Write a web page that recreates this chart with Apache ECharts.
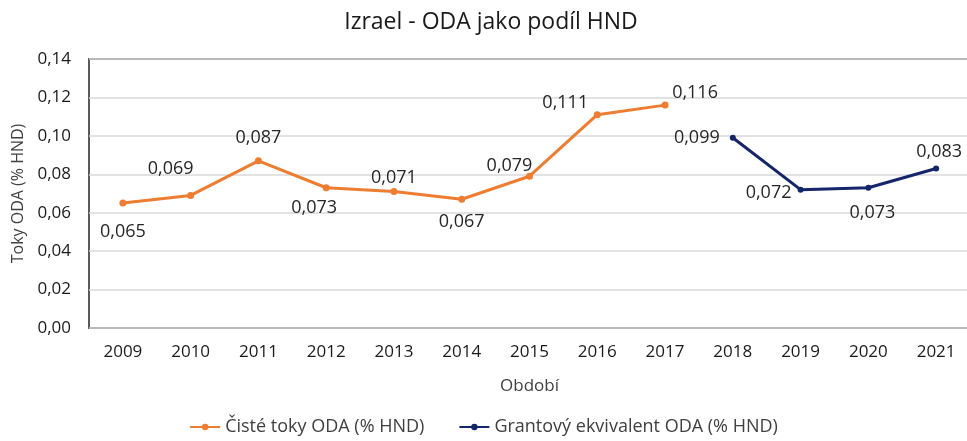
<!DOCTYPE html>
<html>
<head>
<meta charset="utf-8">
<script src="https://cdn.jsdelivr.net/npm/echarts@6/dist/echarts.min.js"></script>
<style>
  html, body { margin: 0; padding: 0; background: #fff; }
  #chart { width: 967px; height: 441px; }
</style>
</head>
<body>
<div id="chart"></div>
<script>
// Data
const years = ['2009', '2010', '2011', '2012', '2013', '2014', '2015', '2016', '2017', '2018', '2019', '2020', '2021'];
const netFlows = [0.065, 0.069, 0.087, 0.073, 0.071, 0.067, 0.079, 0.111, 0.116, null, null, null, null];
const grantEquiv = [null, null, null, null, null, null, null, null, null, 0.099, 0.072, 0.073, 0.083];
const yTicks = [0, 0.02, 0.04, 0.06, 0.08, 0.10, 0.12, 0.14];

// label placement per year (offset from point, px)
const labelOffsets = [
  [0, 29], [-20, -27], [0, -23], [-12, 20], [0, -14], [0, 23], [-20, -10],
  [-32, -12], [30, -12], [-36, 0], [-32, 3], [4, 25], [3, -17]
];

const fmt = v => v.toFixed(3).replace('.', ',');
const font = '"Open Sans", "Noto Sans", sans-serif';

function toPoints(values) {
  return values.map((v, i) => v == null ? null : {
    value: v,
    label: { offset: labelOffsets[i] }
  });
}

const chart = echarts.init(document.getElementById('chart'));

chart.setOption({
  animation: false,
  textStyle: { fontFamily: font },
  title: {
    text: 'Izrael - ODA jako podíl HND',
    left: 486,
    textAlign: 'center',
    top: 6,
    textStyle: { fontSize: 23, fontWeight: 'normal', color: '#1a1a1a', fontFamily: font }
  },
  legend: {
    bottom: 0,
    left: 'center',
    itemGap: 34,
    itemWidth: 30,
    itemHeight: 8,
    textStyle: { fontSize: 18, color: '#404040', fontFamily: font },
    data: ['Čisté toky ODA (% HND)', 'Grantový ekvivalent ODA (% HND)']
  },
  grid: {
    left: 89,
    top: 59,
    width: 881,
    height: 269,
    outerBoundsMode: 'none',
    containLabel: false,
    show: true,
    borderColor: '#595959',
    borderWidth: 2,
    backgroundColor: 'transparent'
  },
  xAxis: {
    type: 'category',
    data: years,
    name: 'Období',
    nameLocation: 'middle',
    nameGap: 50,
    nameTextStyle: { fontSize: 17, color: '#404040' },
    axisLine: { show: false },
    axisTick: { show: false },
    axisLabel: { fontSize: 17, color: '#1a1a1a', margin: 16 }
  },
  yAxis: {
    type: 'value',
    min: 0,
    max: yTicks[yTicks.length - 1],
    interval: 0.02,
    name: 'Toky ODA (% HND)',
    nameLocation: 'middle',
    nameGap: 63,
    nameTextStyle: { fontSize: 16, color: '#404040' },
    axisLine: { show: false },
    axisTick: { show: false },
    axisLabel: {
      fontSize: 17,
      color: '#1a1a1a',
      margin: 18,
      formatter: v => v.toFixed(2).replace('.', ',')
    },
    splitLine: { lineStyle: { color: '#d9d9d9', width: 1.5 } }
  },
  series: [
    {
      name: 'Čisté toky ODA (% HND)',
      type: 'line',
      data: toPoints(netFlows),
      symbol: 'circle',
      symbolSize: 7,
      lineStyle: { color: '#ED7D31', width: 3 },
      itemStyle: { color: '#ED7D31' },
      label: {
        show: true,
        position: 'inside',
        fontSize: 18,
        color: '#262626',
        formatter: p => fmt(p.value)
      }
    },
    {
      name: 'Grantový ekvivalent ODA (% HND)',
      type: 'line',
      data: toPoints(grantEquiv),
      symbol: 'circle',
      symbolSize: 6,
      lineStyle: { color: '#14256B', width: 3 },
      itemStyle: { color: '#14256B' },
      label: {
        show: true,
        position: 'inside',
        fontSize: 18,
        color: '#262626',
        formatter: p => fmt(p.value)
      }
    }
  ]
});
</script>
</body>
</html>
